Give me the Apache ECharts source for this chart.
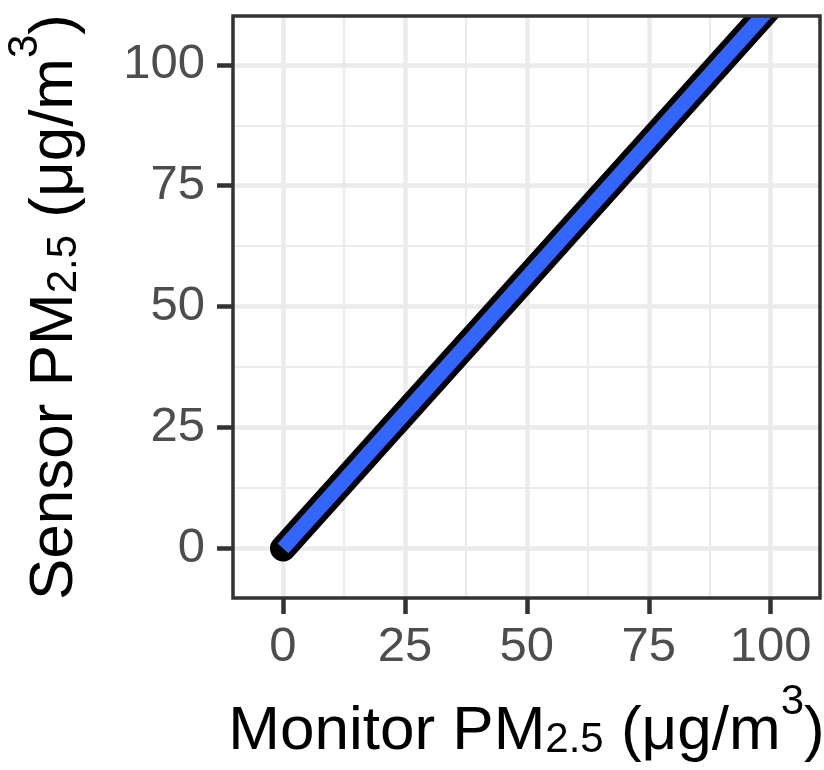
<!DOCTYPE html>
<html>
<head>
<meta charset="utf-8">
<script src="https://cdn.jsdelivr.net/npm/echarts@6/dist/echarts.min.js"></script>
<style>
  html, body { margin: 0; padding: 0; background: #fff; }
  #chart { width: 824px; height: 770px; }
</style>
</head>
<body>
<div id="chart"></div>
<script>
  // fitted line: starts at the origin, leaves the panel top near x = 98
  const monitorPM = [0, 100]
  const sensorPM = [0, 112]

  const majorTicks = [0, 25, 50, 75, 100]
  const minorTicks = [12.5, 37.5, 62.5, 87.5]
  const axisMin = -10.25
  const axisMax = 110.1

  const font = '"Liberation Sans", Arial, Helvetica, sans-serif'
  const grid = {left: 233, top: 16, width: 587, height: 582, outerBoundsMode: 'none', containLabel: false}

  const titleRich = {
    t: {fontSize: 62, lineHeight: 100, color: '#000', fontFamily: font},
    s: {fontSize: 42, height: 82, verticalAlign: 'bottom', color: '#000', fontFamily: font},
    p: {fontSize: 42, height: 41, verticalAlign: 'top', color: '#000', fontFamily: font}
  }

  function mainAxis(name, nameGap, isX) {
    return {
      type: 'value',
      min: axisMin,
      max: axisMax,
      name: name,
      nameLocation: 'middle',
      nameGap: nameGap,
      nameMoveOverlap: false,
      nameTextStyle: {rich: titleRich},
      axisLine: {show: false, onZero: false},
      axisTick: {show: true, customValues: majorTicks, length: 16, lineStyle: {color: '#333', width: 4.5}},
      axisLabel: {
        show: true, customValues: majorTicks, margin: isX ? 25 : 28,
        fontSize: 49, color: '#4D4D4D', fontFamily: font
      },
      splitLine: {show: true, lineStyle: {color: '#EBEBEB', width: 4.5}}
    }
  }

  function minorAxis(position) {
    return {
      type: 'value',
      position: position,
      min: axisMin,
      max: axisMax,
      axisLine: {show: false, onZero: false},
      axisLabel: {show: false, customValues: minorTicks},
      axisTick: {show: false, customValues: minorTicks},
      splitLine: {show: true, lineStyle: {color: '#EBEBEB', width: 2.2}}
    }
  }

  const points = monitorPM.map((x, i) => [x, sensorPM[i]])

  let chart = echarts.init(document.getElementById('chart'))
  let option = {
    animation: false,
    textStyle: {fontFamily: font},
    grid: grid,
    xAxis: [
      mainAxis('{t|Monitor PM}{s|2.5}{t| (μg/m}{p|3}{t|)}', 83.5, true),
      minorAxis('top')
    ],
    yAxis: [
      mainAxis('{t|Sensor PM}{s|2.5}{t| (μg/m}{p|3}{t|)}', 128, false),
      minorAxis('right')
    ],
    series: [
      {
        type: 'line',
        data: points,
        showSymbol: false,
        lineStyle: {color: '#000', width: 26, cap: 'round'},
        z: 3
      },
      {
        type: 'line',
        data: points,
        showSymbol: false,
        lineStyle: {color: '#3366FF', width: 14.5, cap: 'butt'},
        z: 4
      }
    ],
    graphic: [
      // hide the part of the thick line that pokes out above the panel
      {
        type: 'rect', z: 100,
        shape: {x: grid.left - 5, y: 0, width: grid.width + 10, height: grid.top - 1},
        style: {fill: '#fff'}
      },
      {
        type: 'rect', z: 101,
        shape: {x: grid.left, y: grid.top, width: grid.width, height: grid.height},
        style: {fill: null, stroke: '#333', lineWidth: 3.5}
      }
    ]
  }
  chart.setOption(option)
  window.onresize = () => {
    chart.resize()
  }
</script>
</body>
</html>
